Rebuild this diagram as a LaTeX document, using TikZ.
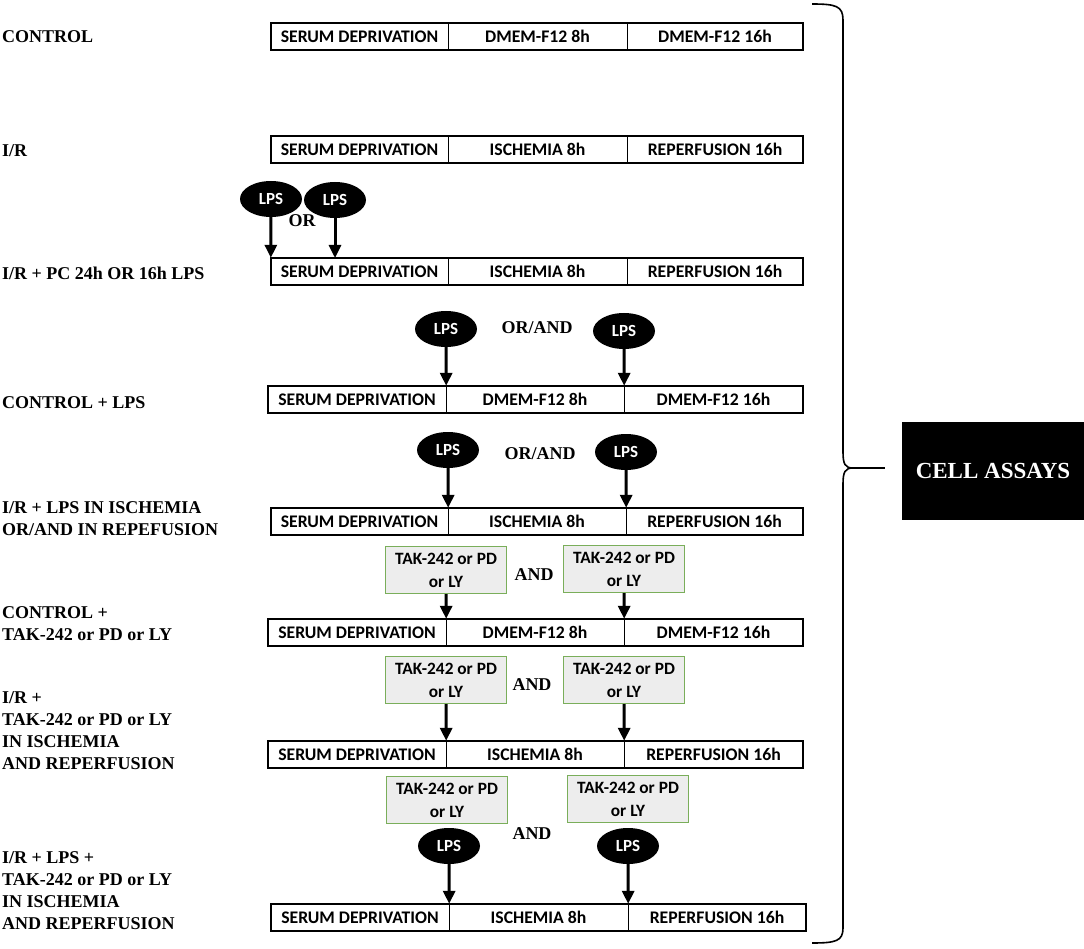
\documentclass[tikz,border=0pt]{standalone}
\usepackage{fontspec}
\setmainfont{Liberation Serif}
\newfontfamily\calib{Carlito}
\usetikzlibrary{arrows.meta,shapes.geometric}
\definecolor{druggray}{HTML}{EDEDED}
\definecolor{drugedge}{HTML}{7AAE5A}
\tikzset{
 lab/.style={anchor=west, font=\fontsize{18}{22}\selectfont\bfseries, align=left, inner sep=0pt},
 seg/.style={inner sep=0pt, minimum height=27pt, font=\calib\fontsize{17.7}{20}\selectfont\bfseries},
 barframe/.style={draw, line width=2pt},
 divider/.style={draw, line width=1.4pt},
 lps/.style={ellipse, fill=black, text=white, minimum width=62pt, minimum height=36pt, inner sep=0pt, font=\calib\fontsize{17}{18}\selectfont\bfseries},
 drug/.style={draw=drugedge, fill=druggray, line width=1.2pt, minimum width=121pt, minimum height=47pt, inner sep=0pt, align=center, font=\calib\fontsize{17.3}{23}\selectfont\bfseries},
 conj/.style={font=\fontsize{18}{22}\selectfont\bfseries, inner sep=0pt},
 arr/.style={line width=3pt, -{Triangle[length=13pt,width=12pt]}},
 bracestyle/.style={line width=1.6pt},
}
\newcommand\timeline[9]{%
 \pgfmathsetmacro\tlyc{#2+13.5}%
 \pgfmathsetmacro\tlwa{#4-#3}%
 \pgfmathsetmacro\tlwb{#5-#4}%
 \pgfmathsetmacro\tlwc{#6-#5}%
 \node[seg, minimum width=\tlwa pt] (#1a) at ({(#3+#4)/2},\tlyc) {#7};
 \node[seg, minimum width=\tlwb pt] (#1b) at ({(#4+#5)/2},\tlyc) {#8};
 \node[seg, minimum width=\tlwc pt] (#1c) at ({(#5+#6)/2},\tlyc) {#9};
 \draw[barframe] (#1a.north west) rectangle (#1c.south east);
 \draw[divider] (#1a.north east) -- (#1a.south east);
 \draw[divider] (#1b.north east) -- (#1b.south east);
}
\begin{document}
\begin{tikzpicture}[x=1pt,y=-1pt]
\useasboundingbox (0,0) rectangle (1084,949);

% labels
\node[lab] (l1) at (2,37) {CONTROL};
\node[lab] (l2) at (2,151) {I/R};
\node[lab] (l3) at (2,273) {I/R + PC 24h OR 16h LPS};
\node[lab] (l4) at (2,403) {CONTROL + LPS};
\node[lab] (l5) at (2,519) {I/R + LPS IN ISCHEMIA\\OR/AND IN REPEFUSION};
\node[lab] (l6) at (2,624) {CONTROL +\\TAK-242 or PD or LY};
\node[lab] (l7) at (2,731) {I/R +\\TAK-242 or PD or LY\\IN ISCHEMIA\\AND REPERFUSION};
\node[lab] (l8) at (2,891) {I/R + LPS +\\TAK-242 or PD or LY\\IN ISCHEMIA\\AND REPERFUSION};

% timelines
\timeline{r1}{23}{271}{448}{627}{803}{SERUM DEPRIVATION}{DMEM-F12 8h}{DMEM-F12 16h}
\timeline{r2}{136}{271}{448}{627}{803}{SERUM DEPRIVATION}{ISCHEMIA 8h}{REPERFUSION 16h}
\timeline{r3}{258}{271}{448}{627}{803}{SERUM DEPRIVATION}{ISCHEMIA 8h}{REPERFUSION 16h}
\timeline{r4}{386}{268}{446}{624}{803}{SERUM DEPRIVATION}{DMEM-F12 8h}{DMEM-F12 16h}
\timeline{r5}{508}{271}{448}{626}{803}{SERUM DEPRIVATION}{ISCHEMIA 8h}{REPERFUSION 16h}
\timeline{r6}{619}{268}{446}{624}{803}{SERUM DEPRIVATION}{DMEM-F12 8h}{DMEM-F12 16h}
\timeline{r7}{741}{268}{446}{624}{803}{SERUM DEPRIVATION}{ISCHEMIA 8h}{REPERFUSION 16h}
\timeline{r8}{904}{271}{449}{628}{806}{SERUM DEPRIVATION}{ISCHEMIA 8h}{REPERFUSION 16h}

% row 3
\node[lps] (o3a) at (271,199) {LPS};
\node[lps] (o3b) at (335,200) {LPS};
\node[conj] (c3) at (302,221) {OR};
\coordinate (p3) at (335,258);
\draw[arr] (o3a) -- (r3a.north west);
\draw[arr] (o3b) -- (p3);

% row 4
\node[lps] (o4a) at (446,329) {LPS};
\node[lps] (o4b) at (624,331) {LPS};
\node[conj] (c4) at (537,328) {OR/AND};
\draw[arr] (o4a) -- (r4a.north east);
\draw[arr] (o4b) -- (r4b.north east);

% row 5
\node[lps] (o5a) at (448,450) {LPS};
\node[lps] (o5b) at (626,452) {LPS};
\node[conj] (c5) at (540,454) {OR/AND};
\draw[arr] (o5a) -- (r5a.north east);
\draw[arr] (o5b) -- (r5b.north east);

% row 6
\node[drug] (d6a) at (446,570) {TAK-242 or PD\\or LY};
\node[drug] (d6b) at (624,569) {TAK-242 or PD\\or LY};
\node[conj] (c6) at (534,575) {AND};
\draw[arr] (d6a) -- (r6a.north east);
\draw[arr] (d6b) -- (r6b.north east);

% row 7
\node[drug] (d7a) at (446,680) {TAK-242 or PD\\or LY};
\node[drug] (d7b) at (624,680) {TAK-242 or PD\\or LY};
\node[conj] (c7) at (532,685) {AND};
\draw[arr] (d7a) -- (r7a.north east);
\draw[arr] (d7b) -- (r7b.north east);

% row 8
\node[drug] (d8a) at (447,800) {TAK-242 or PD\\or LY};
\node[drug] (d8b) at (628,799) {TAK-242 or PD\\or LY};
\node[conj] (c8) at (532,834) {AND};
\node[lps] (o8a) at (449,846) {LPS};
\node[lps] (o8b) at (628,846) {LPS};
\draw[arr] (o8a) -- (r8a.north east);
\draw[arr] (o8b) -- (r8b.north east);

% brace and result
\draw[bracestyle] (812,4) .. controls (836,4) and (843,6) .. (843,20) -- (843,452)
  .. controls (843,464) and (845,468) .. (853,468)
  .. controls (845,468) and (843,472) .. (843,484) -- (843,928)
  .. controls (843,941) and (836,943) .. (812,943);
\coordinate (tip) at (853,468);
\coordinate (tipend) at (885,468);
\draw[bracestyle] (tip) -- (tipend);
\node[fill=black, text=white, minimum width=182pt, minimum height=98pt, inner sep=0pt,
  font=\fontsize{23}{26}\selectfont\bfseries] (cell) at (993,471) {CELL ASSAYS};
\end{tikzpicture}
\end{document}
